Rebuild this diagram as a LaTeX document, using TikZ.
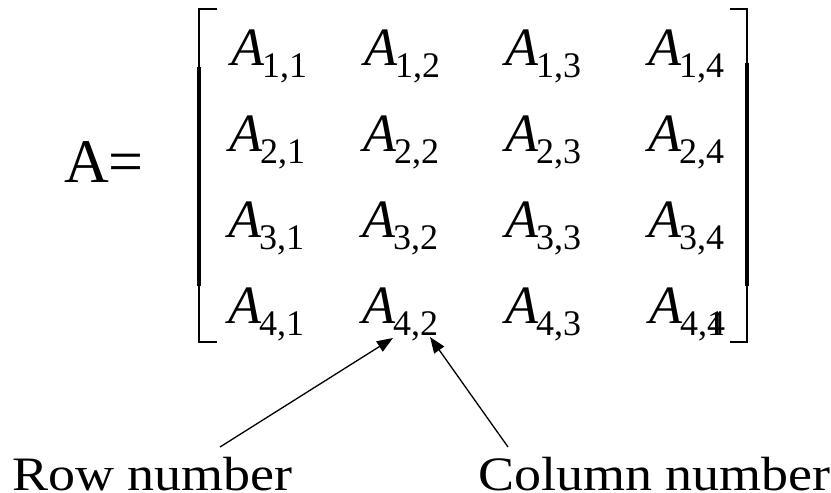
\documentclass[tikz,border=0pt]{standalone}
\usepackage{fontspec}
\setmainfont{Liberation Serif}
\newfontfamily\lblfont[FakeStretch=1.125]{Liberation Serif}
\usetikzlibrary{arrows.meta}
\newcommand{\mentry}[2]{{\fontsize{54}{54}\selectfont\itshape A}\kern-2pt\raisebox{-12pt}{\fontsize{36}{36}\selectfont #1,#2}}
\tikzset{
  ent/.style={anchor=base west, inner sep=0pt},
  lbl/.style={anchor=base west, inner sep=0pt, text depth=0pt, font=\lblfont\fontsize{48}{48}\selectfont},
  brthin/.style={line width=1.4pt},
  brthick/.style={line width=3.4pt},
  pointer/.style={line width=1.3pt, -{Triangle[length=16pt,width=12pt]}}
}
\begin{document}
\begin{tikzpicture}[x=1pt,y=-1pt]
\path[use as bounding box] (0,0) rectangle (831,493);
% A=
\node[anchor=base west, inner sep=0pt, font=\fontsize{62}{62}\selectfont] (lhs) at (64,182) {A=};
% entries
\node[ent] (a11) at (231,65) {\mentry{1}{1}};
\node[ent] (a12) at (364,65) {\mentry{1}{2}};
\node[ent] (a13) at (505,65) {\mentry{1}{3}};
\node[ent] (a14) at (648,65) {\mentry{1}{4}};
\node[ent] (a21) at (229,151) {\mentry{2}{1}};
\node[ent] (a22) at (363,151) {\mentry{2}{2}};
\node[ent] (a23) at (505,151) {\mentry{2}{3}};
\node[ent] (a24) at (648,151) {\mentry{2}{4}};
\node[ent] (a31) at (228,237) {\mentry{3}{1}};
\node[ent] (a32) at (362,237) {\mentry{3}{2}};
\node[ent] (a33) at (505,237) {\mentry{3}{3}};
\node[ent] (a34) at (648,237) {\mentry{3}{4}};
\node[ent] (a41) at (228,323) {\mentry{4}{1}};
\node[ent] (a42) at (362,323) {\mentry{4}{2}};
\node[ent] (a43) at (505,323) {\mentry{4}{3}};
\node[ent] (a44) at (649,323) {\mentry{4}{4\llap{1}}};
% brackets
\draw[brthin] (217,9) -- (199,9) -- (199,68);
\draw[brthick] (199,67) -- (199,286);
\draw[brthin] (199,285) -- (199,342) -- (217,342);
\draw[brthin] (730,9) -- (747,9) -- (747,64);
\draw[brthick] (747,63) -- (747,286);
\draw[brthin] (747,285) -- (747,342) -- (730,342);
% labels
\node[lbl] (row) at (12,490) {Row number};
\node[lbl] (col) at (478,490) {Column number};
\coordinate (rowstart) at (220,447);
\coordinate (rowtip) at (393,338);
\coordinate (colstart) at (508,447);
\coordinate (coltip) at (430,337);
\draw[pointer] (rowstart) -- (rowtip);
\draw[pointer] (colstart) -- (coltip);
\end{tikzpicture}
\end{document}
